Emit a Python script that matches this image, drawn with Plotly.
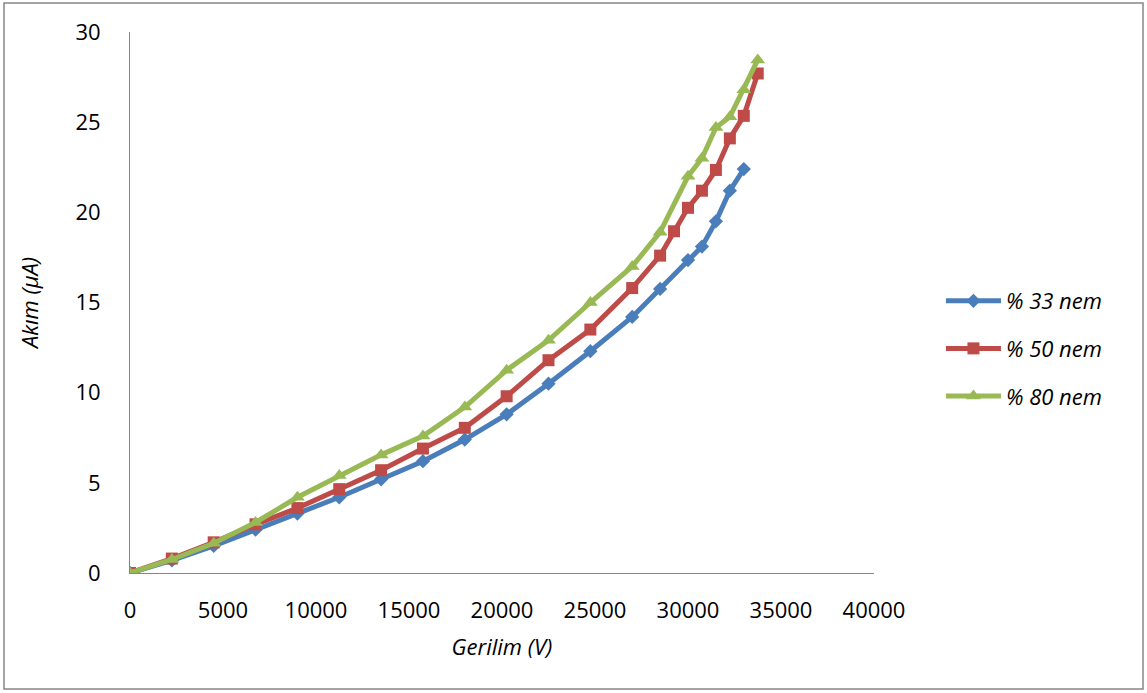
import plotly.graph_objects as go

x_common = [0, 2250, 4500, 6750, 9000, 11250, 13500, 15750, 18000, 20250, 22500, 24750, 27000]

x33 = x_common + [28500, 30000, 30750, 31500, 32250, 33000]
y33 = [0, 0.7, 1.5, 2.4, 3.3, 4.2, 5.2, 6.2, 7.4, 8.8, 10.5, 12.3, 14.2,
       15.75, 17.35, 18.1, 19.5, 21.2, 22.4]

x50 = x_common + [28500, 29250, 30000, 30750, 31500, 32250, 33000, 33750]
y50 = [0, 0.8, 1.7, 2.7, 3.6, 4.65, 5.7, 6.9, 8.05, 9.8, 11.8, 13.5, 15.8,
       17.6, 18.95, 20.25, 21.2, 22.35, 24.1, 25.35, 27.7]

x80 = x_common + [28500, 30000, 30750, 31500, 32250, 33000, 33750]
y80 = [0, 0.75, 1.65, 2.8, 4.2, 5.4, 6.55, 7.6, 9.2, 11.25, 12.9, 15.0, 17.0,
       18.9, 22.0, 23.0, 24.7, 25.3, 26.8, 28.45]

x_ticks = [0, 5000, 10000, 15000, 20000, 25000, 30000, 35000, 40000]
y_ticks = [0, 5, 10, 15, 20, 25, 30]

names = ["% 33 nem", "% 50 nem", "% 80 nem"]
colors = ["#4A7EBB", "#BE4B48", "#98B954"]
symbols = ["diamond", "square", "triangle-up"]
sizes = [11, 12, 13]

FONT = "Open Sans"
FS = 22

fig = go.Figure()
for i, (xs, ys) in enumerate([(x33, y33), (x50, y50), (x80, y80)]):
    fig.add_trace(go.Scatter(
        x=xs, y=ys, mode="lines+markers", name=names[i],
        legendgroup=names[i],
        line=dict(color=colors[i], width=5),
        marker=dict(symbol=symbols[i], size=sizes[i], color=colors[i]),
    ))

fig.update_layout(
    width=1147, height=693,
    margin=dict(l=130, r=273, t=32, b=120),
    paper_bgcolor="white", plot_bgcolor="white",
    font=dict(family=FONT, size=FS, color="black"),
    legend=dict(
        x=1.09, y=0.415, xanchor="left", yanchor="middle",
        font=dict(family=FONT, size=FS, color="black", style="italic"),
        tracegroupgap=16, itemwidth=55,
    ),
    xaxis=dict(
        range=[0, 40000], tickvals=x_ticks, ticktext=[str(v) for v in x_ticks],
        showgrid=False, zeroline=False, showline=True, linecolor="#868686", linewidth=1,
        ticks="", ticklabelstandoff=18,
        title=dict(text="Gerilim (V)", font=dict(family=FONT, size=FS, style="italic"), standoff=16),
    ),
    yaxis=dict(
        range=[0, 30], tickvals=y_ticks, ticktext=[str(v) for v in y_ticks],
        showgrid=False, zeroline=False, showline=True, linecolor="#868686", linewidth=1,
        ticks="", ticklabelstandoff=24,
        title=dict(text="Akım (μA)", font=dict(family=FONT, size=FS, style="italic"), standoff=30),
    ),
    shapes=[dict(
        type="rect", xref="paper", yref="paper",
        x0=(4 - 130) / 744, x1=(1143 - 130) / 744,
        y0=(573 - 689) / 541, y1=(573 - 3) / 541,
        line=dict(color="#868686", width=1.5), fillcolor="rgba(0,0,0,0)", layer="below",
    )],
)

fig.write_html("out.html")
